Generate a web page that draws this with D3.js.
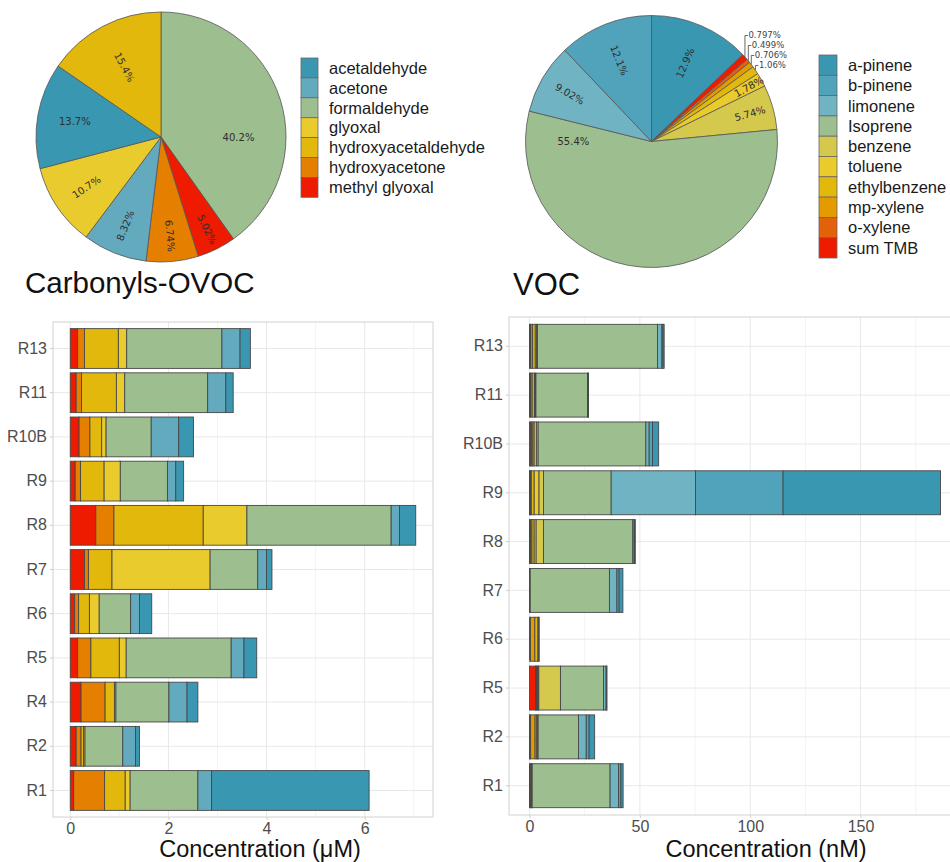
<!DOCTYPE html>
<html>
<head>
<meta charset="utf-8">
<script src="https://cdn.jsdelivr.net/npm/d3@7"></script>
<style>
  body { margin: 0; background: #fff; }
  svg { display: block; font-family: "Liberation Sans", Arial, sans-serif; }
</style>
</head>
<body>
<svg id="chart" width="950" height="862"></svg>
<script>
// ---- legend / species names ----
const carbonylSpecies = ["acetaldehyde", "acetone", "formaldehyde", "glyoxal",
  "hydroxyacetaldehyde", "hydroxyacetone", "methyl glyoxal"];
const vocSpecies = ["a-pinene", "b-pinene", "limonene", "Isoprene", "benzene",
  "toluene", "ethylbenzene", "mp-xylene", "o-xylene", "sum TMB"];

// ---- pie shares (%), clockwise from 12 o'clock ----
const carbonylPieSpecies = ["formaldehyde", "methyl glyoxal", "hydroxyacetone", "acetone",
  "glyoxal", "acetaldehyde", "hydroxyacetaldehyde"];
const carbonylPiePct = [40.2, 5.02, 6.74, 8.32, 10.7, 13.7, 15.4];
const vocPieSpecies = ["a-pinene", "sum TMB", "o-xylene", "mp-xylene", "ethylbenzene",
  "toluene", "benzene", "Isoprene", "limonene", "b-pinene"];
const vocPiePct = [12.9, 0.797, 0.499, 0.706, 1.06, 1.78, 5.74, 55.4, 9.02, 12.1];

// ---- carbonyl concentrations (uM) by site ----
const carbonylSites = ["R1", "R2", "R4", "R5", "R6", "R7", "R8", "R9", "R10B", "R11", "R13"];
const methylGlyoxal       = [0.07, 0.12, 0.22, 0.15, 0.09, 0.29, 0.52, 0.10, 0.18, 0.12, 0.15];
const hydroxyacetone      = [0.63, 0.10, 0.49, 0.27, 0.08, 0.08, 0.37, 0.11, 0.22, 0.11, 0.14];
const hydroxyacetaldehyde = [0.42, 0.05, 0.19, 0.58, 0.22, 0.48, 1.82, 0.48, 0.24, 0.71, 0.69];
const glyoxal             = [0.10, 0.03, 0.03, 0.14, 0.20, 2.00, 0.89, 0.33, 0.09, 0.17, 0.17];
const formaldehyde        = [1.38, 0.77, 1.08, 2.14, 0.64, 0.97, 2.94, 0.96, 0.92, 1.69, 1.94];
const acetone             = [0.28, 0.26, 0.37, 0.26, 0.18, 0.18, 0.17, 0.17, 0.56, 0.37, 0.37];
const acetaldehyde        = [3.21, 0.08, 0.22, 0.26, 0.25, 0.11, 0.33, 0.16, 0.30, 0.15, 0.21];

// ---- VOC concentrations (nM) by site ----
const vocSites = ["R1", "R2", "R5", "R6", "R7", "R8", "R9", "R10B", "R11", "R13"];
const sumTMB       = [0.3, 0.2, 2.7, 0.0, 0.05, 0.3, 0.2, 0.5, 0.3, 0.3];
const oXylene      = [0.2, 0.3, 0.3, 0.4, 0.05, 0.3, 0.2, 0.5, 0.3, 0.3];
const mpXylene     = [0.3, 2.0, 0.4, 2.0, 0.1, 0.5, 0.4, 0.5, 0.6, 0.8];
const ethylbenzene = [0.2, 0.6, 0.4, 1.4, 0.05, 1.0, 1.3, 0.6, 1.0, 1.2];
const toluene      = [0.1, 0.6, 0.4, 0.3, 0.05, 0.9, 2.2, 1.0, 0.3, 0.6];
const benzene      = [0.1, 0.2, 9.8, 0.3, 0.0, 3.3, 2.0, 0.8, 0.4, 0.4];
const isoprene     = [35.3, 18.3, 19.5, 0.0, 35.9, 40.5, 30.7, 48.8, 23.4, 54.4];
const limonene     = [3.8, 3.5, 1.2, 0.0, 3.4, 0.6, 38.2, 1.5, 0.2, 2.0];
const bPinene      = [1.1, 1.3, 0.2, 0.0, 1.0, 0.3, 39.7, 1.5, 0.1, 0.5];
const aPinene      = [1.0, 2.5, 0.2, 0.0, 1.7, 0.2, 71.3, 2.8, 0.1, 0.5];

// ---- axis ticks ----
const carbonylTicks = [0, 2, 4, 6];
const carbonylMinor = [1, 3, 5, 7];
const vocTicks = [0, 50, 100, 150];
const vocMinor = [25, 75, 125, 175];

// colour scales
const carbonylColor = d3.scaleOrdinal()
  .domain(carbonylSpecies)
  .range(["#3a97b1", "#63aabf", "#9dbe8f", "#eacb2e", "#e2b80d", "#e57f00", "#ee1b00"]);
const vocColor = d3.scaleOrdinal()
  .domain(vocSpecies)
  .range(["#3a97b1", "#50a3ba", "#70b4c4", "#9dbe8f", "#d4c94c", "#e9cb2c",
          "#e2b80d", "#e39b00", "#e2620c", "#ee1b00"]);

const svg = d3.select("#chart");

function drawPie(names, pcts, color, cx, cy, r) {
  const data = names.map((n, i) => ({ name: n, pct: pcts[i] }));
  const arcs = d3.pie().sort(null).value(d => d.pct)(data);
  const arc = d3.arc().innerRadius(0).outerRadius(r);
  const g = svg.append("g").attr("transform", `translate(${cx},${cy})`);

  g.selectAll("path")
    .data(arcs)
    .join("path")
    .attr("d", arc)
    .attr("fill", d => color(d.data.name))
    .attr("stroke", "#555")
    .attr("stroke-width", 0.8);

  const fmt = v => d3.format(".3r")(v) + "%";

  // labels inside the slices (radial unless the slice is big)
  arcs.filter(d => d.data.pct >= 1.2).forEach(d => {
    const a = (d.startAngle + d.endAngle) / 2;
    const deg = a * 180 / Math.PI;
    const frac = d.data.pct / 100;
    let rot = deg < 180 ? deg - 90 : deg - 270;
    let la = a, lr;
    if (frac > 0.3) {
      rot = 0;
      la = deg < 180 ? Math.PI / 2 : 3 * Math.PI / 2;
      lr = r * 0.62;
    } else {
      lr = r * (0.62 + 0.3 * (1 - Math.min(frac / 0.16, 1)));
      if (Math.abs(rot) < 12) { rot = 0; lr = r * 0.7; }
    }
    g.append("text")
      .attr("transform", `translate(${Math.sin(la) * lr},${-Math.cos(la) * lr}) rotate(${rot})`)
      .attr("text-anchor", "middle")
      .attr("dy", "0.35em")
      .style("font-family", "DejaVu Sans")
      .style("font-size", "10px")
      .attr("fill", "#2e2e2e")
      .text(fmt(d.data.pct));
  });

  // tiny slices get a callout above the pie
  arcs.filter(d => d.data.pct < 1.2).forEach((d, i) => {
    const a = (d.startAngle + d.endAngle) / 2;
    const ex = Math.sin(a) * r, ey = -Math.cos(a) * r;
    const ly = -r + 20 + i * 10;
    g.append("path")
      .attr("d", `M${ex},${ey}V${ly}H${ex + 3}`)
      .attr("fill", "none")
      .attr("stroke", "#444")
      .attr("stroke-width", 0.8);
    g.append("text")
      .attr("x", ex + 3.5)
      .attr("y", ly)
      .attr("dy", "0.35em")
      .style("font-family", "DejaVu Sans")
      .style("font-size", "8.5px")
      .attr("fill", "#444")
      .text(fmt(d.data.pct));
  });
}

function drawLegend(names, color, x, y0, w, h, tx) {
  const g = svg.append("g");
  g.selectAll("rect")
    .data(names)
    .join("rect")
    .attr("x", x)
    .attr("y", (d, i) => y0 + i * h)
    .attr("width", w)
    .attr("height", h)
    .attr("fill", d => color(d))
    .attr("stroke", "#666")
    .attr("stroke-width", 0.8);
  g.selectAll("text")
    .data(names)
    .join("text")
    .attr("x", tx)
    .attr("y", (d, i) => y0 + i * h + h / 2)
    .attr("dy", "0.35em")
    .style("font-size", "16.5px")
    .attr("fill", "#1a1a1a")
    .text(d => d);
}

function drawBars(o) {
  const rows = o.sites.map((s, i) => {
    const row = { site: s };
    o.keys.forEach(k => row[k] = o.series[k][i]);
    return row;
  });
  const stacked = d3.stack().keys(o.keys)(rows);
  const maxV = d3.max(rows, r => d3.sum(o.keys, k => r[k]));
  const pad = maxV * 0.05;

  const x = d3.scaleLinear().domain([-pad, maxV + pad]).range([o.left, o.right]);
  const y = d3.scaleBand()
    .domain(o.sites.slice().reverse())
    .range([o.top, o.bottom])
    .paddingInner(0.1)
    .paddingOuter(0.15);

  const g = svg.append("g");

  // grid
  g.append("g").selectAll("line")
    .data(o.minor)
    .join("line")
    .attr("x1", d => x(d)).attr("x2", d => x(d))
    .attr("y1", o.top).attr("y2", o.bottom)
    .attr("stroke", "#f3f3f3").attr("stroke-width", 1);
  g.append("g").selectAll("line")
    .data(o.ticks)
    .join("line")
    .attr("x1", d => x(d)).attr("x2", d => x(d))
    .attr("y1", o.top).attr("y2", o.bottom)
    .attr("stroke", "#e8e8e8").attr("stroke-width", 1);
  g.append("g").selectAll("line")
    .data(o.sites)
    .join("line")
    .attr("x1", o.left).attr("x2", o.right)
    .attr("y1", d => y(d) + y.bandwidth() / 2)
    .attr("y2", d => y(d) + y.bandwidth() / 2)
    .attr("stroke", "#e8e8e8").attr("stroke-width", 1);

  // bars
  g.append("g")
    .selectAll("g")
    .data(stacked)
    .join("g")
    .attr("fill", d => o.color(d.key))
    .selectAll("rect")
    .data(d => d.filter(p => p[1] - p[0] > 0))
    .join("rect")
    .attr("x", d => x(d[0]))
    .attr("width", d => x(d[1]) - x(d[0]))
    .attr("y", d => y(d.data.site))
    .attr("height", y.bandwidth())
    .attr("stroke", "#474747")
    .attr("stroke-width", 0.9);

  // panel border
  g.append("rect")
    .attr("x", o.left).attr("y", o.top)
    .attr("width", o.right - o.left).attr("height", o.bottom - o.top)
    .attr("fill", "none").attr("stroke", "#d2d2d2").attr("stroke-width", 1);

  // axes
  const xAxis = g.append("g")
    .attr("transform", `translate(0,${o.bottom})`)
    .call(d3.axisBottom(x).tickValues(o.ticks).tickSize(3).tickPadding(3));
  const yAxis = g.append("g")
    .attr("transform", `translate(${o.left},0)`)
    .call(d3.axisLeft(y).tickSize(3).tickPadding(3));
  [xAxis, yAxis].forEach(ax => {
    ax.select(".domain").remove();
    ax.selectAll(".tick line").attr("stroke", "#cfcfcf");
    ax.selectAll(".tick text")
      .attr("fill", "#4d4d4d")
      .style("font-size", "16px")
      .style("font-family", "\"Liberation Sans\", Arial, sans-serif");
  });

  g.append("text")
    .attr("x", o.titleX)
    .attr("y", 857)
    .attr("text-anchor", "middle")
    .style("font-size", "23.5px")
    .attr("fill", "#111")
    .text(o.title);
}

// ---- top row: pies, legends, titles ----
drawPie(carbonylPieSpecies, carbonylPiePct, carbonylColor, 161, 137, 125);
drawPie(vocPieSpecies, vocPiePct, vocColor, 651.5, 141.5, 126);
drawLegend(carbonylSpecies, carbonylColor, 301, 58, 17, 19.9, 329);
drawLegend(vocSpecies, vocColor, 819, 55, 18, 20.3, 848);

svg.append("text").attr("x", 25).attr("y", 293)
  .style("font-size", "29.5px").attr("fill", "#111").text("Carbonyls-OVOC");
svg.append("text").attr("x", 513).attr("y", 295)
  .style("font-size", "31px").attr("fill", "#111").text("VOC");

// ---- bottom row: stacked bars ----
drawBars({
  sites: carbonylSites,
  keys: ["methyl glyoxal", "hydroxyacetone", "hydroxyacetaldehyde", "glyoxal",
         "formaldehyde", "acetone", "acetaldehyde"],
  series: {
    "methyl glyoxal": methylGlyoxal,
    "hydroxyacetone": hydroxyacetone,
    "hydroxyacetaldehyde": hydroxyacetaldehyde,
    "glyoxal": glyoxal,
    "formaldehyde": formaldehyde,
    "acetone": acetone,
    "acetaldehyde": acetaldehyde
  },
  color: carbonylColor,
  left: 53, right: 433, top: 322, bottom: 817,
  ticks: carbonylTicks, minor: carbonylMinor,
  title: "Concentration (\u03bcM)", titleX: 260
});

drawBars({
  sites: vocSites,
  keys: ["sum TMB", "o-xylene", "mp-xylene", "ethylbenzene", "toluene", "benzene",
         "Isoprene", "limonene", "b-pinene", "a-pinene"],
  series: {
    "sum TMB": sumTMB,
    "o-xylene": oXylene,
    "mp-xylene": mpXylene,
    "ethylbenzene": ethylbenzene,
    "toluene": toluene,
    "benzene": benzene,
    "Isoprene": isoprene,
    "limonene": limonene,
    "b-pinene": bPinene,
    "a-pinene": aPinene
  },
  color: vocColor,
  left: 509, right: 961, top: 317, bottom: 815,
  ticks: vocTicks, minor: vocMinor,
  title: "Concentration (nM)", titleX: 766
});
</script>
</body>
</html>
